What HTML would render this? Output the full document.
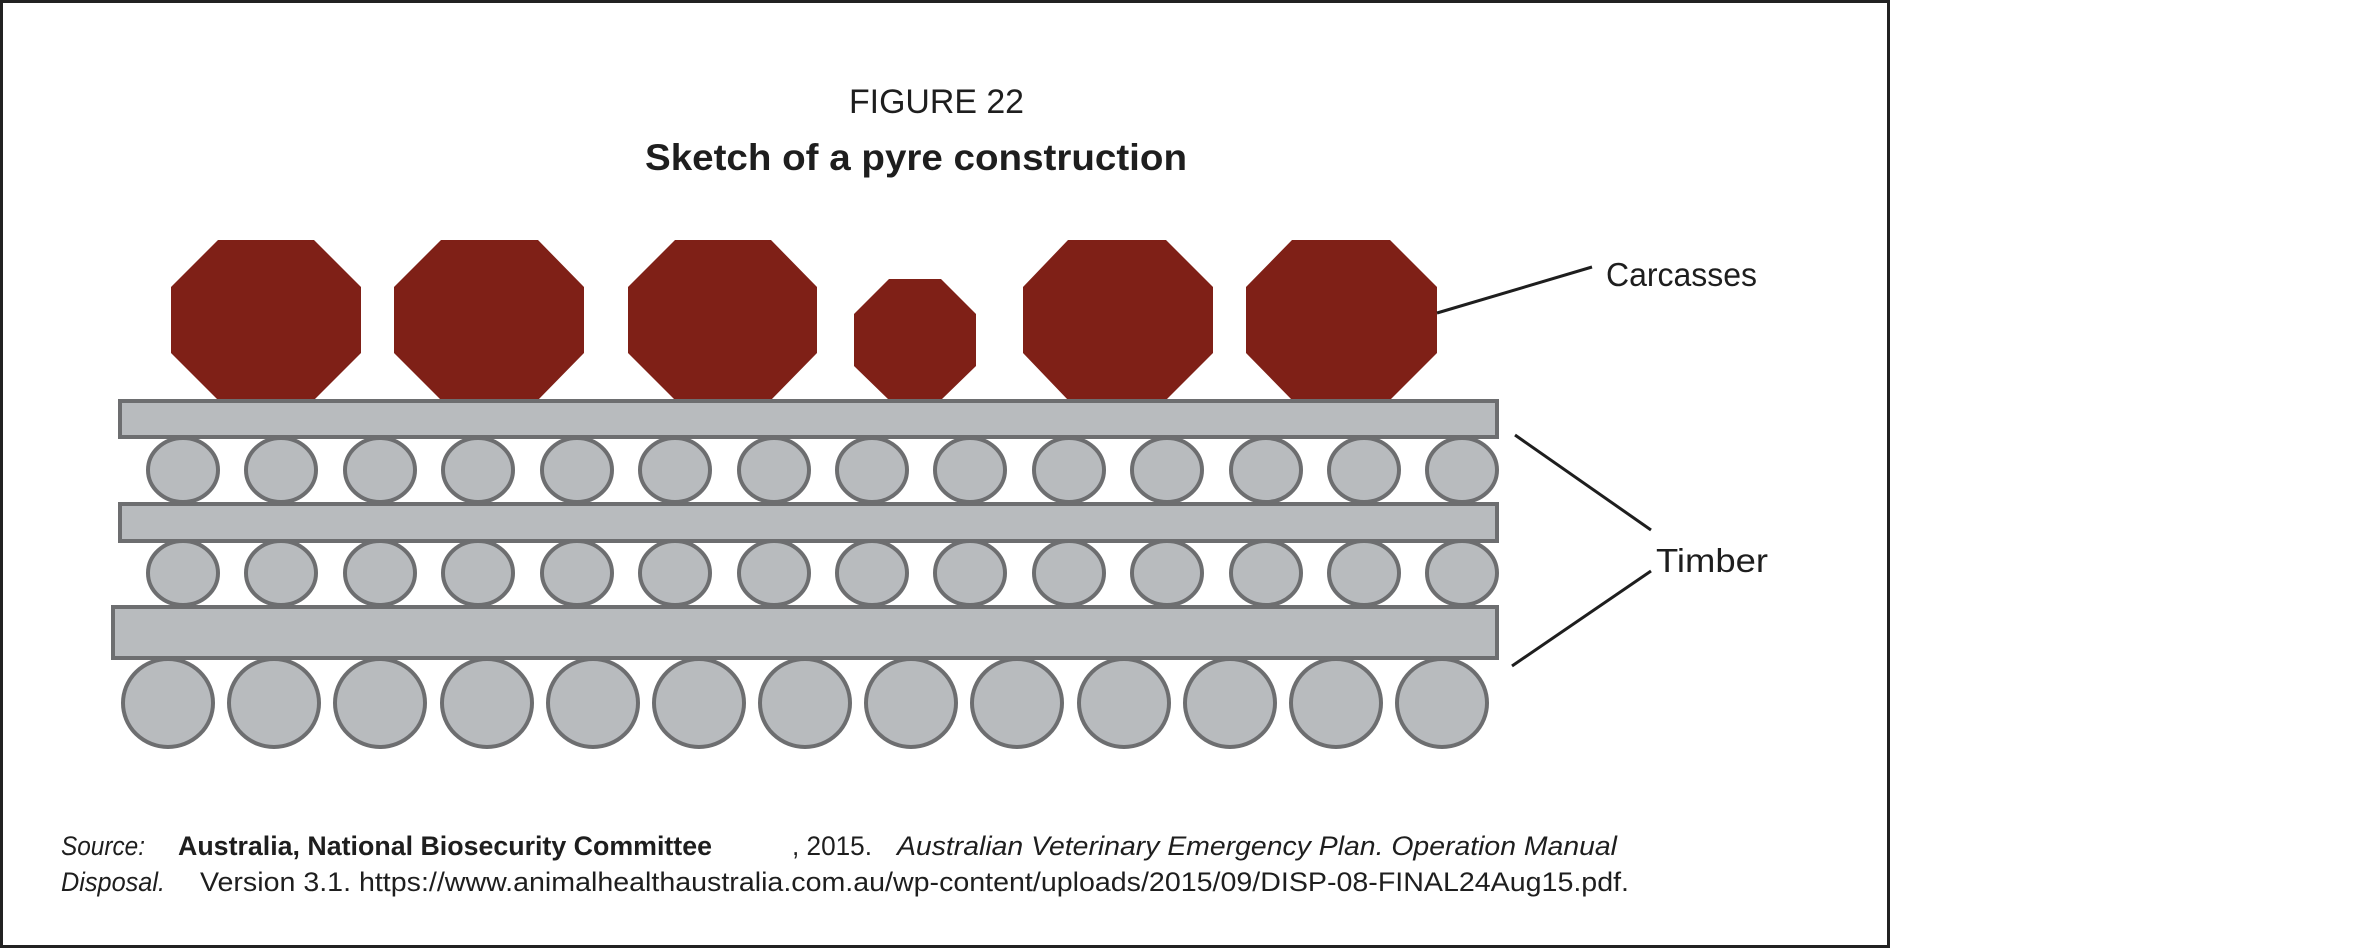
<!DOCTYPE html>
<html><head><meta charset="utf-8"><style>
html,body{margin:0;padding:0;background:#fff;}
svg{display:block;}
text{font-family:"Liberation Sans",sans-serif;fill:#1e1e1e;}
</style></head><body>
<svg width="2377" height="949" viewBox="0 0 2377 949" xmlns="http://www.w3.org/2000/svg">
<rect x="1.5" y="1.5" width="1887" height="945" fill="#fff" stroke="#222" stroke-width="3"/>
<text x="849" y="113" font-size="34" textLength="175" lengthAdjust="spacingAndGlyphs">FIGURE 22</text>
<text x="645" y="170" font-size="37" font-weight="bold" textLength="542" lengthAdjust="spacingAndGlyphs">Sketch of a pyre construction</text>
<g fill="#7f2017">
<polygon points="218,240 314,240 361,287 361,353 314,400 218,400 171,353 171,287"/>
<polygon points="441,240 538,240 584,287 584,353 538,400 441,400 394,353 394,287"/>
<polygon points="675,240 771,240 817,287 817,353 771,400 675,400 628,353 628,287"/>
<polygon points="889,279 941,279 976,314 976,366 941,400 889,400 854,366 854,314"/>
<polygon points="1068,240 1166,240 1213,287 1213,353 1166,400 1068,400 1023,353 1023,287"/>
<polygon points="1292,240 1390,240 1437,287 1437,353 1390,400 1292,400 1246,353 1246,287"/>
</g>
<g fill="#b8bbbe" stroke="#6d6e70" stroke-width="4">
<rect x="120" y="401" width="1377" height="36"/>
<g>
<ellipse cx="183" cy="470" rx="35" ry="32"/><ellipse cx="281" cy="470" rx="35" ry="32"/><ellipse cx="380" cy="470" rx="35" ry="32"/><ellipse cx="478" cy="470" rx="35" ry="32"/><ellipse cx="577" cy="470" rx="35" ry="32"/><ellipse cx="675" cy="470" rx="35" ry="32"/><ellipse cx="774" cy="470" rx="35" ry="32"/><ellipse cx="872" cy="470" rx="35" ry="32"/><ellipse cx="970" cy="470" rx="35" ry="32"/><ellipse cx="1069" cy="470" rx="35" ry="32"/><ellipse cx="1167" cy="470" rx="35" ry="32"/><ellipse cx="1266" cy="470" rx="35" ry="32"/><ellipse cx="1364" cy="470" rx="35" ry="32"/><ellipse cx="1462" cy="470" rx="35" ry="32"/>
</g>
<rect x="120" y="504" width="1377" height="37"/>
<g transform="translate(0,103)">
<ellipse cx="183" cy="470" rx="35" ry="32"/><ellipse cx="281" cy="470" rx="35" ry="32"/><ellipse cx="380" cy="470" rx="35" ry="32"/><ellipse cx="478" cy="470" rx="35" ry="32"/><ellipse cx="577" cy="470" rx="35" ry="32"/><ellipse cx="675" cy="470" rx="35" ry="32"/><ellipse cx="774" cy="470" rx="35" ry="32"/><ellipse cx="872" cy="470" rx="35" ry="32"/><ellipse cx="970" cy="470" rx="35" ry="32"/><ellipse cx="1069" cy="470" rx="35" ry="32"/><ellipse cx="1167" cy="470" rx="35" ry="32"/><ellipse cx="1266" cy="470" rx="35" ry="32"/><ellipse cx="1364" cy="470" rx="35" ry="32"/><ellipse cx="1462" cy="470" rx="35" ry="32"/>
</g>
<rect x="113" y="607" width="1384" height="51"/>
<ellipse cx="168" cy="703" rx="45" ry="44"/><ellipse cx="274" cy="703" rx="45" ry="44"/><ellipse cx="380" cy="703" rx="45" ry="44"/><ellipse cx="487" cy="703" rx="45" ry="44"/><ellipse cx="593" cy="703" rx="45" ry="44"/><ellipse cx="699" cy="703" rx="45" ry="44"/><ellipse cx="805" cy="703" rx="45" ry="44"/><ellipse cx="911" cy="703" rx="45" ry="44"/><ellipse cx="1017" cy="703" rx="45" ry="44"/><ellipse cx="1124" cy="703" rx="45" ry="44"/><ellipse cx="1230" cy="703" rx="45" ry="44"/><ellipse cx="1336" cy="703" rx="45" ry="44"/><ellipse cx="1442" cy="703" rx="45" ry="44"/>
</g>
<g stroke="#1e1e1e" stroke-width="3">
<line x1="1437" y1="313" x2="1592" y2="267"/>
<line x1="1515" y1="435" x2="1651" y2="530"/>
<line x1="1651" y1="571" x2="1512" y2="666"/>
</g>
<text x="1606" y="286" font-size="33" textLength="151" lengthAdjust="spacingAndGlyphs">Carcasses</text>
<text x="1656" y="572" font-size="33" textLength="112" lengthAdjust="spacingAndGlyphs">Timber</text>
<g font-size="27">
<text x="61" y="855" font-style="italic" textLength="84" lengthAdjust="spacingAndGlyphs">Source:</text>
<text x="178" y="855" font-weight="bold" textLength="534" lengthAdjust="spacingAndGlyphs">Australia, National Biosecurity Committee</text>
<text x="792" y="855" textLength="80" lengthAdjust="spacingAndGlyphs">, 2015.</text>
<text x="897" y="855" font-style="italic" textLength="720" lengthAdjust="spacingAndGlyphs">Australian Veterinary Emergency Plan. Operation Manual</text>
<text x="61" y="891" font-style="italic" textLength="104" lengthAdjust="spacingAndGlyphs">Disposal.</text>
<text x="200" y="891" textLength="1429" lengthAdjust="spacingAndGlyphs">Version 3.1. https://www.animalhealthaustralia.com.au/wp-content/uploads/2015/09/DISP-08-FINAL24Aug15.pdf.</text>
</g>
</svg>
</body></html>
